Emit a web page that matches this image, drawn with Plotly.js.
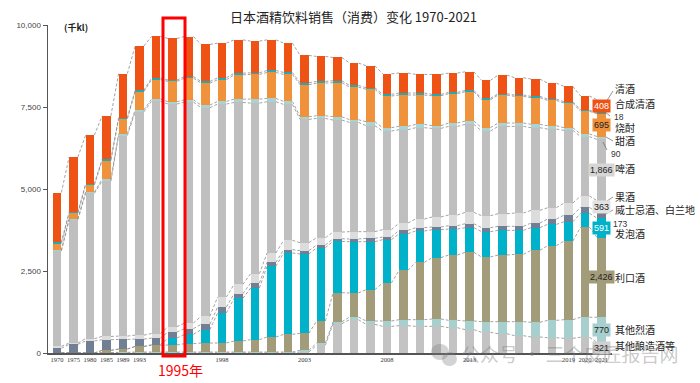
<!DOCTYPE html>
<html>
<head>
<meta charset="utf-8">
<script src="https://cdn.plot.ly/plotly-3.0.1.min.js"></script>
<style>html,body{margin:0;padding:0;background:#fff;} #chart{width:700px;height:383px;}</style>
</head>
<body>
<div id="chart"></div>
<script>
// ---------------- DATA (千kl) ----------------
const years = ['1970','1975','1980','1985','1989','1993','1994','1995','1996','1997','1998','1999','2000','2001','2002','2003','2004','2005','2006','2007','2008','2009','2010','2011','2012','2013','2014','2015','2016','2017','2018','2019','2020','2021'];
const tickYears = ['1970','1975','1980','1985','1989','1993','1998','2003','2008','2013','2019','2020','2021'];

const otherBrewed = [0,0,0,0,0,0,0,0,0,0,0,0,0,0,0,30,234,894,1016,874,813,833,813,813,772,711,630,589,528,488,467,447,480,321];
const spirits     = [0,0,0,10,20,30,30,30,30,30,30,30,30,30,30,50,71,60,81,102,163,183,203,224,224,264,325,366,427,447,528,569,610,770];
const liqueur     = [0,0,0,70,100,170,204,214,254,275,275,336,376,458,539,520,670,884,732,955,1158,1504,1748,1869,1991,2093,1971,2032,2052,2195,2276,2398,2750,2426];
const happoshu    = [0,0,0,0,0,0,20,213,284,406,914,1300,1575,2154,2479,2418,2235,1565,1565,1463,1321,1118,955,853,792,752,772,752,732,691,650,589,420,591];
const whisky      = [142,264,366,325,295,224,200,183,173,163,183,142,152,122,102,102,81,81,81,102,81,102,102,81,102,122,122,122,122,142,163,203,183,173];
const wine        = [60,40,70,100,100,120,140,163,173,244,305,284,284,284,284,244,224,203,224,203,224,224,264,305,325,345,366,386,406,386,345,366,345,363];
const beer        = [2906,3759,4430,4735,6116,6807,7082,6787,6736,6360,5883,5547,5202,4613,4145,3759,3637,3414,3332,3231,3007,2845,2784,2703,2703,2682,2581,2662,2642,2520,2398,2215,1808,1866];
const mirin       = [30,30,40,60,60,60,70,70,70,80,80,100,122,100,91,81,81,102,81,122,102,102,102,81,102,102,102,102,102,102,102,81,81,90];
const shochu      = [200,163,213,569,447,559,589,620,660,670,660,742,752,792,823,975,996,1036,996,986,965,955,894,914,894,894,853,853,813,813,772,752,691,695];
const synthSake   = [40,40,40,40,40,40,50,40,50,50,60,50,50,60,60,60,50,60,50,50,50,60,60,40,40,40,40,40,40,40,40,40,40,18];
const sake        = [1514,1676,1483,1321,1341,1351,1270,1270,1219,1128,1057,1016,965,935,894,833,762,711,681,671,630,610,569,610,589,569,549,569,528,528,488,467,427,408];

const seriesNames = ['其他酿造酒等','其他烈酒','利口酒','发泡酒','威士忌酒、白兰地','果酒','啤酒','甜酒','烧酎','合成清酒','清酒'];

// ---------------- BUILD ----------------
const seriesValues = [otherBrewed, spirits, liqueur, happoshu, whisky, wine, beer, mirin, shochu, synthSake, sake];
const colors = ['#C3C3C3','#A7CFCE','#A39C7B','#00B2C9','#717F94','#DCDCDC','#BFBFBF','#A9D2D0','#F0923B','#23A9B5','#EE5215'];
const idx = years.map((_, i) => i);
const barW = 0.53, hw = barW / 2;

const traces = [];
seriesValues.forEach((vals, k) => {
  traces.push({type:'bar', x: idx, y: vals, name: seriesNames[k], width: barW,
    marker:{color: colors[k], line:{width:0}}, hoverinfo:'skip', showlegend:false});
});

let run = years.map(() => 0);
const cums = [];
seriesValues.forEach(vals => { run = run.map((c, i) => c + vals[i]); cums.push(run.slice()); });

cums.forEach(c => {
  const xs = [], ys = [];
  for (let i = 0; i < c.length - 1; i++) { xs.push(i + hw, i + 1 - hw, null); ys.push(c[i], c[i + 1], null); }
  traces.push({type:'scatter', mode:'lines', x: xs, y: ys, hoverinfo:'skip', showlegend:false,
    line:{color:'#8c8c8c', width:0.8, dash:'3px,2px'}});
});

// ---------------- LAYOUT helpers ----------------
const L = 48, R = 612, T = 25, B = 353;
const px = x => (x - L) / (R - L);
const py = y => (B - y) / (B - T);
const last = years.length - 1;
const fmt = v => v.toLocaleString('en-US');
const numFont = "Arial, 'Liberation Sans', sans-serif";
const cjk = "'Noto Sans CJK SC', 'Noto Sans', sans-serif";

const annotations = [];
const boxed = [
  {k:10, bg:'#EE5215', fc:'#ffffff'},
  {k:8,  bg:'#F0923B', fc:'#222'},
  {k:6,  bg:'#D6D6D6', fc:'#222'},
  {k:5,  bg:'#E2E2E2', fc:'#222'},
  {k:3,  bg:'#00B2C9', fc:'#ffffff'},
  {k:2,  bg:'#A39C7B', fc:'#222'},
  {k:1,  bg:'#A7CFCE', fc:'#222'},
  {k:0,  bg:'#D0D0D0', fc:'#222'}
];
boxed.forEach(b => {
  const top = cums[b.k][last], val = seriesValues[b.k][last];
  annotations.push({x: last, y: top - val / 2, xref:'x', yref:'y', xanchor:'center', yanchor:'middle',
    text: fmt(val), showarrow:false, bgcolor: b.bg, borderpad:1, font:{family:numFont, size:9, color:b.fc}});
});
const small = [{k:9, x:612, y:117}, {k:7, x:609, y:154}, {k:4, x:611, y:224}];
small.forEach(s => annotations.push({x: px(s.x), y: py(s.y), xref:'paper', yref:'paper', xanchor:'left', yanchor:'middle',
  text: fmt(seriesValues[s.k][last]), showarrow:false, font:{family:numFont, size:8.5, color:'#333'}}));

const nameLabels = [
  {k:10, y:89}, {k:9, y:103}, {k:8, y:127}, {k:7, y:140}, {k:6, y:169}, {k:5, y:196},
  {k:4, y:209}, {k:3, y:233}, {k:2, y:277}, {k:1, y:329}, {k:0, y:345}
];
nameLabels.forEach(n => annotations.push({x: px(613), y: py(n.y), xref:'paper', yref:'paper', xanchor:'left', yanchor:'middle',
  text: seriesNames[n.k], showarrow:false, font:{family:cjk, size:10, color:'#222'}}));

annotations.push({x: px(62), y: py(27), xref:'paper', yref:'paper', xanchor:'left', yanchor:'middle', text:'<b>(千kl)</b>',
  showarrow:false, font:{family:cjk, size:9, color:'#222'}});
annotations.push({x: px(180), y: py(370), xref:'paper', yref:'paper', xanchor:'center', yanchor:'middle', text:'1995年',
  showarrow:false, font:{family:cjk, size:14, color:'#FF0000'}});
annotations.push({x: px(570), y: py(353), xref:'paper', yref:'paper', xanchor:'center', yanchor:'middle', text:'公众号 · 三个皮匠报告网',
  showarrow:false, font:{family:cjk, size:19, color:'rgba(120,120,120,0.40)'}});

const seg = (x0, y0, x1, y1) => ({type:'line', xref:'paper', yref:'paper', x0: px(x0), y0: py(y0), x1: px(x1), y1: py(y1),
  line:{color:'#666', width:0.7}});
const shapes = [
  seg(606,102,613,91), seg(605,112,610,116), seg(606,137,613,141), seg(603,142,607,150),
  seg(607,201,613,197), seg(606,214,613,210),
  {type:'rect', xref:'paper', yref:'paper', x0: px(163), x1: px(185), y0: py(356), y1: py(18),
   line:{color:'#FF0000', width:3}, fillcolor:'rgba(0,0,0,0)'},
  {type:'circle', xref:'paper', yref:'paper', x0: px(431), x1: px(449), y0: py(360), y1: py(344),
   line:{width:0}, fillcolor:'rgba(120,120,120,0.33)'},
  {type:'circle', xref:'paper', yref:'paper', x0: px(442), x1: px(457), y0: py(366), y1: py(352),
   line:{width:0}, fillcolor:'rgba(120,120,120,0.33)'}
];

const layout = {
  width:700, height:383,
  margin:{l:L, r:700 - R, t:T, b:383 - B, pad:0},
  paper_bgcolor:'#fff', plot_bgcolor:'#fff',
  barmode:'stack',
  font:{family:"'Liberation Sans', 'Noto Sans CJK SC', sans-serif", color:'#333'},
  title:{text:'日本酒精饮料销售（消费）变化 1970-2021', x:0.505, xanchor:'center', y: 1 - 17/383, yanchor:'middle',
    font:{family:cjk, size:13, color:'#222'}},
  xaxis:{range:[-(57 - L) / 16.5, last + (R - 601.5) / 16.5], tickvals: tickYears.map(y => years.indexOf(y)),
    ticktext: tickYears, tickangle:0, tickfont:{family:"'Liberation Serif', serif", size:6.5, color:'#333'},
    showline:true, linecolor:'#555', linewidth:1.5, ticks:'', showgrid:false, zeroline:false, fixedrange:true},
  yaxis:{range:[0, 10000], tickvals:[0,2500,5000,7500,10000], tickformat:',', ticks:'outside', ticklen:4,
    tickcolor:'#555', tickfont:{family:numFont, size:8, color:'#444'}, showline:true, linecolor:'#555',
    linewidth:1.5, showgrid:false, zeroline:false, fixedrange:true},
  annotations: annotations,
  shapes: shapes,
  showlegend:false
};

Plotly.newPlot('chart', traces, layout, {staticPlot:true, displayModeBar:false});
</script>
</body>
</html>
